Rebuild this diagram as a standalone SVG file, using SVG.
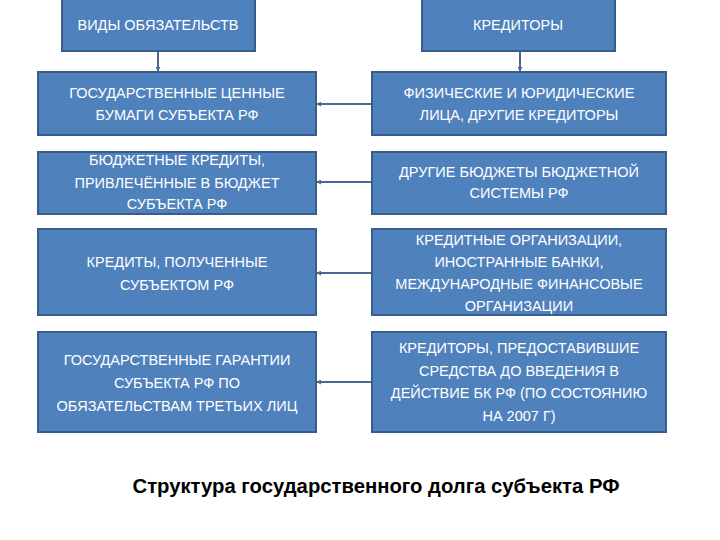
<svg xmlns="http://www.w3.org/2000/svg" width="720" height="540" viewBox="0 0 720 540">
<defs>
<style>
.box{fill:#4f81bd;stroke:#385d8a;stroke-width:2}
.t{font-family:"Liberation Sans","Noto Sans",sans-serif;font-size:14.5px;fill:#ffffff;text-anchor:middle}
.c{stroke:#4a6796;stroke-width:2;fill:none;marker-end:url(#ah)}
.title{font-family:"Liberation Sans","Noto Sans",sans-serif;font-size:20.3px;font-weight:bold;fill:#000000;text-anchor:middle}
</style>
<marker id="ah" viewBox="0 0 6 6" refX="5" refY="3" markerWidth="2.5" markerHeight="2.5" orient="auto">
<path d="M0,0 L6,3 L0,6 z" fill="#4a6796"/>
</marker>
</defs>
<rect width="720" height="540" fill="#ffffff"/>
<g id="connectors">
<line class="c" x1="158" y1="51" x2="158" y2="71"/>
<line class="c" x1="520" y1="51" x2="520" y2="71"/>
<line class="c" x1="372" y1="104" x2="317" y2="104"/>
<line class="c" x1="372" y1="182" x2="317" y2="182"/>
<line class="c" x1="372" y1="273" x2="317" y2="273"/>
<line class="c" x1="372" y1="382" x2="317" y2="382"/>
</g>
<g id="n-vidy">
<rect class="box" x="62" y="-2" width="193" height="53"/>
<text class="t" x="158" y="30">ВИДЫ ОБЯЗАТЕЛЬСТВ</text>
</g>
<g id="n-kreditory">
<rect class="box" x="422" y="-2" width="193" height="53"/>
<text class="t" x="518" y="30">КРЕДИТОРЫ</text>
</g>
<g id="n-l1">
<rect class="box" x="38" y="72" width="278" height="63"/>
<text class="t" x="177" y="98">ГОСУДАРСТВЕННЫЕ ЦЕННЫЕ</text>
<text class="t" x="177" y="120">БУМАГИ СУБЪЕКТА РФ</text>
</g>
<g id="n-r1">
<rect class="box" x="372" y="72" width="294" height="63"/>
<text class="t" x="519" y="98">ФИЗИЧЕСКИЕ И ЮРИДИЧЕСКИЕ</text>
<text class="t" x="519" y="120">ЛИЦА, ДРУГИЕ КРЕДИТОРЫ</text>
</g>
<g id="n-l2">
<rect class="box" x="38" y="152" width="278" height="62"/>
<text class="t" x="177" y="165">БЮДЖЕТНЫЕ КРЕДИТЫ,</text>
<text class="t" x="177" y="188">ПРИВЛЕЧЁННЫЕ В БЮДЖЕТ</text>
<text class="t" x="177" y="209">СУБЪЕКТА РФ</text>
</g>
<g id="n-r2">
<rect class="box" x="372" y="152" width="294" height="62"/>
<text class="t" x="519" y="177">ДРУГИЕ БЮДЖЕТЫ БЮДЖЕТНОЙ</text>
<text class="t" x="519" y="198">СИСТЕМЫ РФ</text>
</g>
<g id="n-l3">
<rect class="box" x="38" y="229" width="278" height="86"/>
<text class="t" x="177" y="267">КРЕДИТЫ, ПОЛУЧЕННЫЕ</text>
<text class="t" x="177" y="290">СУБЪЕКТОМ РФ</text>
</g>
<g id="n-r3">
<rect class="box" x="372" y="229" width="294" height="86"/>
<text class="t" x="519" y="245">КРЕДИТНЫЕ ОРГАНИЗАЦИИ,</text>
<text class="t" x="519" y="267">ИНОСТРАННЫЕ БАНКИ,</text>
<text class="t" x="519" y="289">МЕЖДУНАРОДНЫЕ ФИНАНСОВЫЕ</text>
<text class="t" x="519" y="311">ОРГАНИЗАЦИИ</text>
</g>
<g id="n-l4">
<rect class="box" x="38" y="332" width="278" height="100"/>
<text class="t" x="177" y="365">ГОСУДАРСТВЕННЫЕ ГАРАНТИИ</text>
<text class="t" x="177" y="388">СУБЪЕКТА РФ ПО</text>
<text class="t" x="177" y="411">ОБЯЗАТЕЛЬСТВАМ ТРЕТЬИХ ЛИЦ</text>
</g>
<g id="n-r4">
<rect class="box" x="372" y="332" width="294" height="100"/>
<text class="t" x="519" y="353">КРЕДИТОРЫ, ПРЕДОСТАВИВШИЕ</text>
<text class="t" x="519" y="376">СРЕДСТВА ДО ВВЕДЕНИЯ В</text>
<text class="t" x="519" y="398">ДЕЙСТВИЕ БК РФ  (ПО СОСТОЯНИЮ</text>
<text class="t" x="519" y="421">НА 2007 Г)</text>
</g>
<text class="title" x="376" y="493">Структура государственного долга субъекта РФ</text>
</svg>
